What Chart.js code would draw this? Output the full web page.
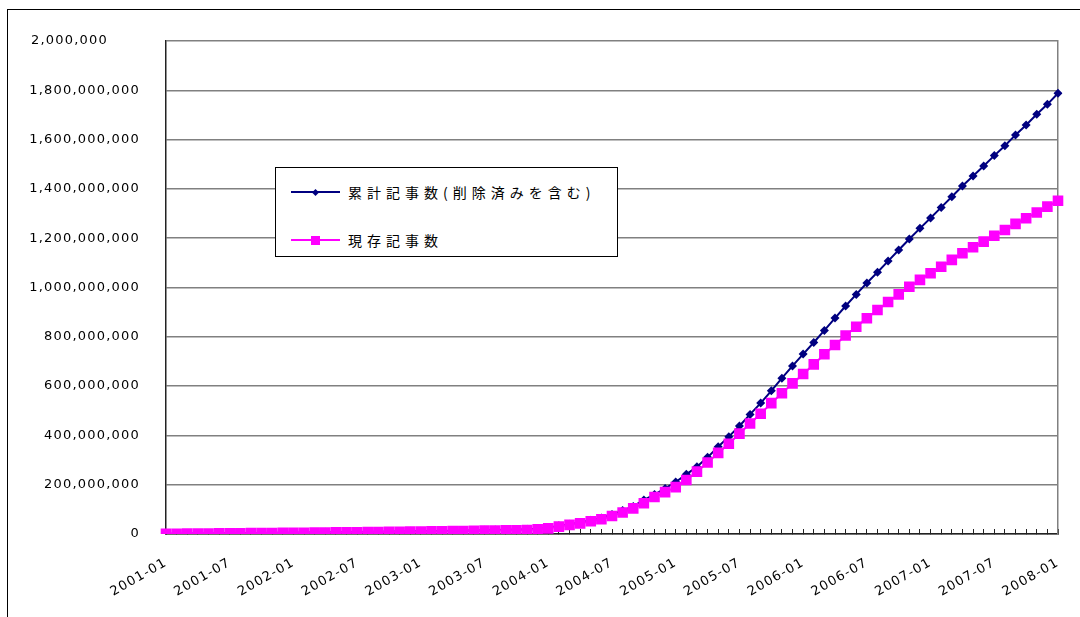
<!DOCTYPE html>
<html lang="ja">
<head>
  <meta charset="UTF-8" />
  <title>記事数の推移</title>
  <style>
    body { margin: 0; background: #fff; width: 1080px; height: 617px; overflow: hidden; position: relative; }
    .frame {
      position: absolute; left: 7px; top: 9px; width: 1200px; height: 800px;
      border: 1.5px solid #000;
    }
    #chart { position: absolute; left: 0; top: 0; }
    #legend {
      position: absolute; left: 275px; top: 167px; width: 341px; height: 88px;
      border: 1px solid #000; background: #fff;
      font-family: "Noto Sans CJK JP", sans-serif; font-size: 14px; letter-spacing: 5px;
    }
    .item { position: absolute; left: 15px; height: 20px; display: flex; align-items: center; white-space: nowrap; }
    .swatch { position: relative; width: 49px; height: 20px; margin-right: 8px; }
    .swatch .line { position: absolute; left: 0; right: 0; top: 9px; height: 2px; }
    .swatch .mark { position: absolute; }
  </style>
</head>
<body>
  <div class="frame"></div>
  <canvas id="chart" width="1080" height="617"></canvas>
  <div id="legend"></div>

  <script src="https://cdn.jsdelivr.net/npm/chart.js"></script>
  <script>
    // months 2001-01 .. 2008-01
    const months = [];
    for (let y = 2001; y <= 2008; y++) {
      for (let m = 1; m <= 12; m++) {
        if (y === 2008 && m > 1) break;
        months.push(y + '-' + String(m).padStart(2, '0'));
      }
    }

    const seriesNames = ['累計記事数(削除済みを含む)', '現存記事数'];
    const seriesColors = ['#000080', '#FF00FF'];

    // values in millions
    const totalArticles = [
      1, 1.5, 2, 2, 2.5, 3, 3, 3.5, 4, 4.5, 5, 5,
      5.5, 6, 6.5, 7, 7.5, 8, 8.5, 9, 9.5, 10, 10.5, 11,
      11.5, 12, 12.5, 13, 14, 14.5, 15, 16, 17, 18, 19, 21,
      26, 33, 40, 47, 56, 65, 79, 95, 112, 138, 160, 185,
      211, 242, 273, 311, 354, 395, 438, 485, 531, 581, 632, 682,
      730, 777, 826, 876, 925, 972, 1018, 1062, 1107, 1152, 1197, 1240,
      1282, 1325, 1368, 1412, 1452, 1493, 1535, 1575, 1619, 1659, 1703, 1743, 1788
    ];
    const currentArticles = [
      1, 1, 1.5, 2, 2, 2.5, 3, 3, 3.5, 4, 4, 4.5,
      5, 5, 5.5, 6, 6.5, 7, 7, 7.5, 8, 8.5, 9, 9.5,
      10, 10.5, 11, 11.5, 12, 13, 13.5, 14, 15, 15.5, 16.5, 19,
      23, 30, 37, 43, 52, 60, 73, 87, 104, 125, 150, 170,
      190, 219, 253, 290, 329, 366, 407, 448, 488, 531, 571, 611,
      649, 688, 729, 767, 805, 841, 875, 909, 941, 972, 1003, 1031,
      1058, 1084, 1112, 1139, 1163, 1186, 1210, 1233, 1258, 1281, 1304, 1328, 1352
    ];

    const yTicks = [0, 200e6, 400e6, 600e6, 800e6, 1000e6, 1200e6, 1400e6, 1600e6, 1800e6, 2000e6];

    const spacing = {
      id: 'spacing',
      beforeUpdate(c) { c.ctx.letterSpacing = '1.2px'; },
      beforeDraw(c) { c.ctx.letterSpacing = '1.2px'; }
    };

    const axisFont = { family: 'DejaVu Sans', size: 13 };

    new Chart(document.getElementById('chart'), {
      type: 'line',
      data: {
        labels: months,
        datasets: [
          {
            label: seriesNames[0],
            data: totalArticles.map(v => v * 1e6),
            borderColor: seriesColors[0],
            backgroundColor: seriesColors[0],
            borderWidth: 2,
            pointStyle: 'rectRot',
            pointRadius: 4.5,
            pointBorderWidth: 0,
            tension: 0,
            order: 1
          },
          {
            label: seriesNames[1],
            data: currentArticles.map(v => v * 1e6),
            borderColor: seriesColors[1],
            backgroundColor: seriesColors[1],
            borderWidth: 2,
            pointStyle: 'rect',
            pointRadius: 7.5,
            pointBorderWidth: 0,
            tension: 0,
            order: 0
          }
        ]
      },
      options: {
        responsive: false,
        animation: false,
        devicePixelRatio: 1,
        layout: { padding: { left: 0, top: 41, right: 22, bottom: 0 } },
        plugins: { legend: { display: false }, tooltip: { enabled: false } },
        scales: {
          x: {
            offset: false,
            // negative length puts the tick marks inside the plot
            grid: { drawOnChartArea: false, drawTicks: true, tickLength: -5, color: '#222' },
            border: { color: '#222', width: 1.5 },
            ticks: {
              autoSkip: false, minRotation: 30, maxRotation: 30, padding: 26,
              color: '#000', font: axisFont,
              callback: (v, i) => (i % 6 === 0 ? months[i] : '')
            },
            afterFit: s => { s.height = 83; s.paddingLeft = 0; s.paddingRight = 0; }
          },
          y: {
            min: 0, max: 2000e6,
            afterBuildTicks: s => { s.ticks = yTicks.map(v => ({ value: v })); },
            grid: { color: '#808080', lineWidth: 1.5, drawTicks: false },
            border: { color: '#222', width: 1.5 },
            ticks: {
              padding: 26, color: '#000', font: axisFont,
              // the top label is clipped in the original and sits flush left
              callback: v => (v === 2000e6 ? '2,000,000      ' : v.toLocaleString('en-US'))
            },
            afterFit: s => { s.width = 166; }
          },
          y2: {
            position: 'right',
            grid: { drawOnChartArea: false, drawTicks: false },
            border: { color: '#808080', width: 1.5 },
            ticks: { display: false }
          }
        }
      },
      plugins: [spacing]
    });

    // legend box
    const legend = document.getElementById('legend');
    const rowTops = [14, 62];
    seriesNames.forEach((name, i) => {
      const item = document.createElement('div');
      item.className = 'item';
      item.style.top = rowTops[i] + 'px';
      const sw = document.createElement('div');
      sw.className = 'swatch';
      const line = document.createElement('div');
      line.className = 'line';
      line.style.background = seriesColors[i];
      const mark = document.createElement('div');
      mark.className = 'mark';
      mark.style.background = seriesColors[i];
      if (i === 0) {
        Object.assign(mark.style, { width: '5px', height: '5px', left: '22px', top: '7.5px', transform: 'rotate(45deg)' });
      } else {
        Object.assign(mark.style, { width: '9px', height: '9px', left: '20px', top: '5.5px' });
      }
      sw.appendChild(line);
      sw.appendChild(mark);
      const text = document.createElement('span');
      text.textContent = name;
      item.appendChild(sw);
      item.appendChild(text);
      legend.appendChild(item);
    });
  </script>
</body>
</html>
